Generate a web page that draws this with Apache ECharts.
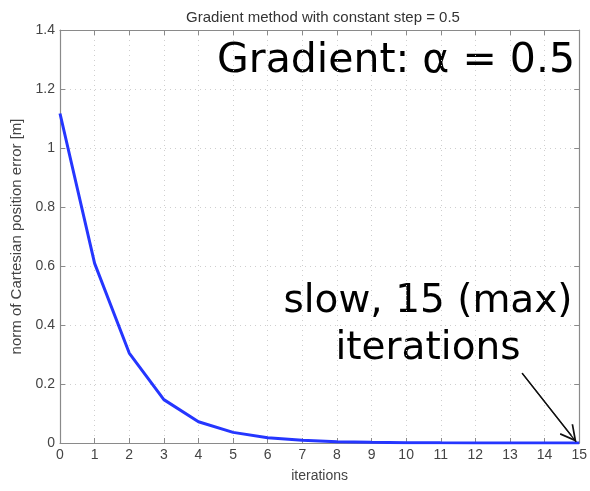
<!DOCTYPE html>
<html><head><meta charset="utf-8">
<script src="https://cdn.jsdelivr.net/npm/echarts@6/dist/echarts.min.js"></script>
<style>html,body{margin:0;padding:0;background:#fff}#c{width:590px;height:491px}</style>
</head><body><div id="c"></div>
<script>
const iterations = [0,1,2,3,4,5,6,7,8,9,10,11,12,13,14,15];
const errorNorm = [1.117,0.609,0.305,0.147,0.072,0.036,0.018,0.009,0.0045,0.0023,0.0012,0.0006,0.0003,0.00015,0.00008,0.00004];
const xTicks = {min:0, max:15, step:1};
const yTicks = {min:0, max:1.4, step:0.2};
const titleText = 'Gradient method with constant step = 0.5';
const xName = 'iterations';
const yName = 'norm of Cartesian position error [m]';
const bigLabel = 'Gradient: α = 0.5';
const noteLabel = 'slow, 15 (max)\niterations';
const arrowFrom = [13.35, 0.237];
const arrowTip = [14.91, 0.004];
const arrowHeadCenter = [14.77, 0.026];

const chart = echarts.init(document.getElementById('c'), null, {renderer:'canvas'});
const fontFam = '"Liberation Sans", Arial, Helvetica, sans-serif';
const gridStyle = {show:true, lineStyle:{color:'#cfcfcf', type:[1,4], width:1}};
const axisLine = {show:true, onZero:false, lineStyle:{color:'#8a8a8a', width:1.2}};
const tick = {show:true, inside:true, length:5, lineStyle:{color:'#8a8a8a'}};
const chevron = 'path://M0,0 L6,12 L5,12.7 L0,2.8 L-5,12.7 L-6,12 Z';
chart.setOption({
  animation:false,
  backgroundColor:'#fff',
  title:{text:titleText, left:318, textAlign:'center', top:5,
    textStyle:{fontSize:15, fontWeight:'normal', color:'#333', fontFamily:fontFam}},
  grid:{left:60, right:10, top:30, bottom:48, show:false},
  xAxis:[
    {type:'value', min:xTicks.min, max:xTicks.max, interval:xTicks.step, position:'bottom',
     name:xName, nameLocation:'middle', nameGap:26,
     nameTextStyle:{fontSize:14, color:'#444', fontFamily:fontFam},
     axisLine:axisLine, axisTick:tick, splitLine:gridStyle,
     axisLabel:{fontSize:14, color:'#444', fontFamily:fontFam, margin:5, showMaxLabel:true}},
    {type:'value', min:xTicks.min, max:xTicks.max, interval:xTicks.step, position:'top',
     axisLine:axisLine, axisTick:tick, splitLine:{show:false}, axisLabel:{show:false}}
  ],
  yAxis:[
    {type:'value', min:yTicks.min, max:yTicks.max, interval:yTicks.step, position:'left',
     name:yName, nameLocation:'middle', nameGap:36,
     nameTextStyle:{fontSize:15, color:'#444', fontFamily:fontFam},
     axisLine:axisLine, axisTick:tick, splitLine:gridStyle,
     axisLabel:{fontSize:14, color:'#444', fontFamily:fontFam, margin:5,
       formatter:v=>String(Math.round(v*10)/10)}},
    {type:'value', min:yTicks.min, max:yTicks.max, interval:yTicks.step, position:'right',
     axisLine:axisLine, axisTick:tick, splitLine:{show:false}, axisLabel:{show:false}}
  ],
  series:[{
    type:'line', xAxisIndex:0, yAxisIndex:0,
    data: iterations.map((x,i)=>[x, errorNorm[i]]),
    showSymbol:false, symbol:'none',
    lineStyle:{color:'#2536ff', width:3},
    markLine:{silent:true, symbol:['none','none'], symbolSize:[17,17],
      lineStyle:{color:'#111', width:1.3, type:'solid'}, label:{show:false},
      data:[
        [{coord:arrowFrom, symbol:'none'},{coord:arrowTip, symbol:'none'}],
        [{coord:arrowFrom, symbol:'none'},{coord:arrowHeadCenter, symbol:chevron}]
      ]}
  }],
  graphic:[
    {type:'text', x:575, y:41, style:{text:bigLabel, font:'41px "DejaVu Sans", Verdana, sans-serif', fill:'#000', align:'right', verticalAlign:'top'}},
    {type:'text', x:428, y:278, style:{text:noteLabel, font:'39px "DejaVu Sans", Verdana, sans-serif', fill:'#000', align:'center', verticalAlign:'top', lineHeight:47}}
  ]
});
</script></body></html>
